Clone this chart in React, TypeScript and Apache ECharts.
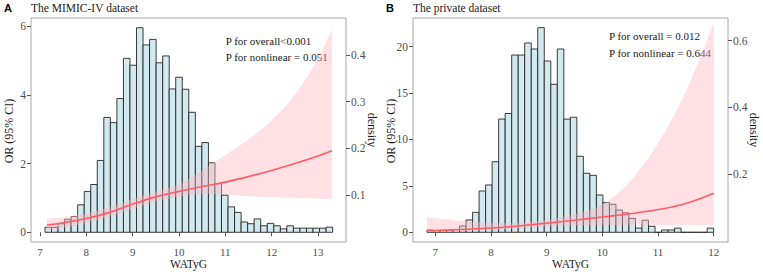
import { useEffect, useRef } from "react";
import * as echarts from "echarts";

const SERIF = "'Liberation Serif', 'Times New Roman', serif";
const SANS = "'Liberation Sans', Arial, sans-serif";
const BAR_FILL = "#d3e9f0";
const BAR_EDGE = "#262626";
const LINE_COLOR = "#ff5e62";
const BAND_FILL = "rgba(255, 182, 193, 0.42)";
const TICK_TEXT = "#4d4d4d";

// ---- Panel A: MIMIC-IV cohort ----
const mimicBinStart = 7.108;
const mimicBinWidth = 0.1411;
const mimicHeights = [
  0.145, 0.145, 0.25, 0.38, 0.46, 0.8, 1.19, 1.39, 2.09, 3.34, 3.19, 3.89, 5.06, 4.86, 5.95,
  5.45, 5.61, 4.93, 5.13, 4.17, 4.51, 4.16, 3.49, 2.5, 2.61, 2.02, 1.42, 1.08, 0.74, 0.58,
  0.3, 0.25, 0.39, 0.19, 0.26, 0.19, 0.1, 0.19, 0.12, 0.12, 0.12, 0.12, 0.12, 0.15,
];
const mimicX = [7.15, 7.5, 8, 8.5, 9, 9.5, 10, 10.5, 11, 11.5, 12, 12.5, 13, 13.3];
const mimicOR = [0.21, 0.28, 0.4, 0.58, 0.82, 1.03, 1.19, 1.33, 1.46, 1.62, 1.8, 2.0, 2.22, 2.37];
const mimicLower = [0.07, 0.13, 0.27, 0.45, 0.68, 0.9, 1.04, 1.12, 1.09, 1.05, 1.02, 1.0, 0.98, 0.96];
const mimicUpper = [0.4, 0.44, 0.55, 0.73, 0.97, 1.18, 1.4, 1.8, 2.25, 2.7, 3.25, 4.0, 5.05, 5.9];

// ---- Panel B: private cohort ----
const privBinStart = 6.851;
const privBinWidth = 0.117;
const privHeights = [
  0.25, 0.2, 0.2, 0.2, 0.3, 0.68, 1.33, 2.15, 4.45, 5.1, 7.6, 12.2, 12.8, 19.1, 19.1, 20.4,
  19.75, 22.05, 18.46, 15.95, 19.75, 12.2, 12.4, 8.19, 6.36, 6.14, 4.02, 3.2, 3.02, 2.4, 2.1,
  1.5, 0.45, 1.3, 0.65, 0, 0.25, 0.25, 0.45, 0, 0, 0, 0, 0.45,
];
const privX = [6.85, 7, 7.5, 8, 8.5, 9, 9.5, 10, 10.5, 11, 11.5, 12];
const privOR = [0.17, 0.2, 0.3, 0.46, 0.68, 0.98, 1.3, 1.65, 2.0, 2.45, 3.1, 4.2];
const privLower = [0.02, 0.04, 0.12, 0.25, 0.42, 0.62, 0.72, 0.78, 0.8, 0.8, 0.8, 0.8];
const privUpper = [1.62, 1.52, 1.22, 1.02, 1.02, 1.35, 1.95, 3.0, 5.5, 9.6, 15.2, 22.5];

// Axis tick values
const mimicXTicks = [7, 8, 9, 10, 11, 12, 13];
const mimicORTicks = [0, 2, 4, 6];
const mimicDensityTicks = [0.1, 0.2, 0.3, 0.4];
const privXTicks = [7, 8, 9, 10, 11, 12];
const privORTicks = [0, 5, 10, 15, 20];
const privDensityTicks = [0.2, 0.4, 0.6];

// Catmull-Rom interpolation in pixel space for a smooth band edge
function spline(pts: number[][], steps = 10): number[][] {
  const out: number[][] = [];
  for (let i = 0; i < pts.length - 1; i++) {
    const p0 = pts[Math.max(i - 1, 0)];
    const p1 = pts[i];
    const p2 = pts[i + 1];
    const p3 = pts[Math.min(i + 2, pts.length - 1)];
    for (let s = 0; s < steps; s++) {
      const t = s / steps;
      const t2 = t * t;
      const t3 = t2 * t;
      out.push(
        [0, 1].map(
          (k) =>
            0.5 *
            (2 * p1[k] +
              (-p0[k] + p2[k]) * t +
              (2 * p0[k] - 5 * p1[k] + 4 * p2[k] - p3[k]) * t2 +
              (-p0[k] + 3 * p1[k] - 3 * p2[k] + p3[k]) * t3)
        )
      );
    }
  }
  out.push(pts[pts.length - 1]);
  return out;
}

function histSeries(grid: number, start: number, width: number, heights: number[]) {
  return {
    type: "custom",
    xAxisIndex: grid,
    yAxisIndex: grid * 2,
    z: 2,
    data: heights.map((h, i) => [start + i * width, start + (i + 1) * width, h]),
    encode: { x: [0, 1], y: 2 },
    renderItem: (_p: any, api: any) => {
      const tl = api.coord([api.value(0), api.value(2)]);
      const br = api.coord([api.value(1), 0]);
      return {
        type: "rect",
        shape: { x: tl[0], y: tl[1], width: br[0] - tl[0], height: br[1] - tl[1] },
        style: { fill: BAR_FILL, stroke: BAR_EDGE, lineWidth: 0.9 },
      };
    },
  };
}

function bandSeries(grid: number, xs: number[], lower: number[], upper: number[]) {
  return {
    type: "custom",
    xAxisIndex: grid,
    yAxisIndex: grid * 2,
    z: 3,
    silent: true,
    data: [[xs[0], lower[0]]],
    encode: { x: 0, y: 1 },
    renderItem: (_p: any, api: any) => {
      const up = spline(xs.map((x, i) => api.coord([x, upper[i]])));
      const lo = spline(xs.map((x, i) => api.coord([x, lower[i]])));
      return {
        type: "polygon",
        shape: { points: up.concat(lo.reverse()) },
        style: { fill: BAND_FILL },
      };
    },
  };
}

function lineSeries(grid: number, xs: number[], ys: number[]) {
  return {
    type: "line",
    xAxisIndex: grid,
    yAxisIndex: grid * 2,
    z: 4,
    smooth: 0.4,
    symbol: "none",
    data: xs.map((x, i) => [x, ys[i]]),
    lineStyle: { color: LINE_COLOR, width: 1.6 },
  };
}

const tickStyle = { show: true, length: 4, lineStyle: { color: "#555", width: 1 } };

function xAxis(grid: number, min: number, max: number, ticks: number[]) {
  return {
    type: "value",
    gridIndex: grid,
    min,
    max,
    axisLine: { show: false },
    splitLine: { show: false },
    axisTick: { ...tickStyle, customValues: ticks },
    axisLabel: {
      customValues: ticks,
      margin: 4,
      color: TICK_TEXT,
      fontFamily: SERIF,
      fontSize: 11,
      lineHeight: 11,
    },
  };
}

function yAxis(grid: number, position: string, min: number, max: number, ticks: number[]) {
  return {
    type: "value",
    gridIndex: grid,
    position,
    min,
    max,
    axisLine: { show: false },
    splitLine: { show: false },
    axisTick: { ...tickStyle, customValues: ticks },
    axisLabel: {
      customValues: ticks,
      margin: 5,
      color: TICK_TEXT,
      fontFamily: SERIF,
      fontSize: 11.5,
      formatter: (v: number) => String(v),
    },
  };
}

function text(x: number, y: number, str: string, opts: any = {}) {
  return {
    type: "text",
    x,
    y,
    rotation: opts.rotation ?? 0,
    style: {
      text: str,
      fill: opts.fill ?? "#1a1a1a",
      font: opts.font ?? `11px ${SERIF}`,
      textAlign: opts.align ?? "left",
      textVerticalAlign: "middle",
    },
  };
}

export default function App() {
  const ref = useRef<HTMLDivElement>(null);

  useEffect(() => {
    document.body.style.margin = "0";
    if (!ref.current) return;
    const chart = echarts.init(ref.current, undefined, { renderer: "svg" });
    chart.setOption({
      animation: false,
      backgroundColor: "#ffffff",
      grid: [
        { left: 31, top: 18, width: 315, height: 224, show: true, borderColor: "#a6a6a6", borderWidth: 1 },
        { left: 413, top: 18, width: 315, height: 224, show: true, borderColor: "#a6a6a6", borderWidth: 1 },
      ],
      xAxis: [
        xAxis(0, 6.806, 13.605, mimicXTicks),
        xAxis(1, 6.6, 12.256, privXTicks),
      ],
      yAxis: [
        yAxis(0, "left", -0.282, 6.233, mimicORTicks),
        yAxis(0, "right", -0.0006, 0.4793, mimicDensityTicks),
        yAxis(1, "left", -1.045, 23.09, privORTicks),
        yAxis(1, "right", -0.0039, 0.668, privDensityTicks),
      ],
      series: [
        histSeries(0, mimicBinStart, mimicBinWidth, mimicHeights),
        bandSeries(0, mimicX, mimicLower, mimicUpper),
        lineSeries(0, mimicX, mimicOR),
        histSeries(1, privBinStart, privBinWidth, privHeights),
        bandSeries(1, privX, privLower, privUpper),
        lineSeries(1, privX, privOR),
      ],
      graphic: [
        text(4, 8, "A", { font: `bold 11px ${SANS}`, fill: "#000" }),
        text(31, 8, "The MIMIC-IV dataset", { font: `11.5px ${SERIF}` }),
        text(386, 8, "B", { font: `bold 11px ${SANS}`, fill: "#000" }),
        text(413, 8, "The private dataset", { font: `11.5px ${SERIF}` }),
        text(225.7, 40.5, "P for overall<0.001"),
        text(225.7, 57, "P for nonlinear = 0.051"),
        text(609, 36, "P for overall = 0.012"),
        text(609, 52.5, "P for nonlinear = 0.644"),
        text(188.5, 263.5, "WATyG", { align: "center", font: `11.5px ${SERIF}` }),
        text(570.5, 263.5, "WATyG", { align: "center", font: `11.5px ${SERIF}` }),
        text(9, 131, "OR (95% CI)", { align: "center", rotation: Math.PI / 2, font: `12px ${SERIF}` }),
        text(391, 131, "OR (95% CI)", { align: "center", rotation: Math.PI / 2, font: `12px ${SERIF}` }),
        text(372, 130, "density", { align: "center", rotation: -Math.PI / 2, font: `12px ${SERIF}` }),
        text(754, 130, "density", { align: "center", rotation: -Math.PI / 2, font: `12px ${SERIF}` }),
      ],
    });
    return () => chart.dispose();
  }, []);

  return <div ref={ref} style={{ width: 763, height: 272 }} />;
}
